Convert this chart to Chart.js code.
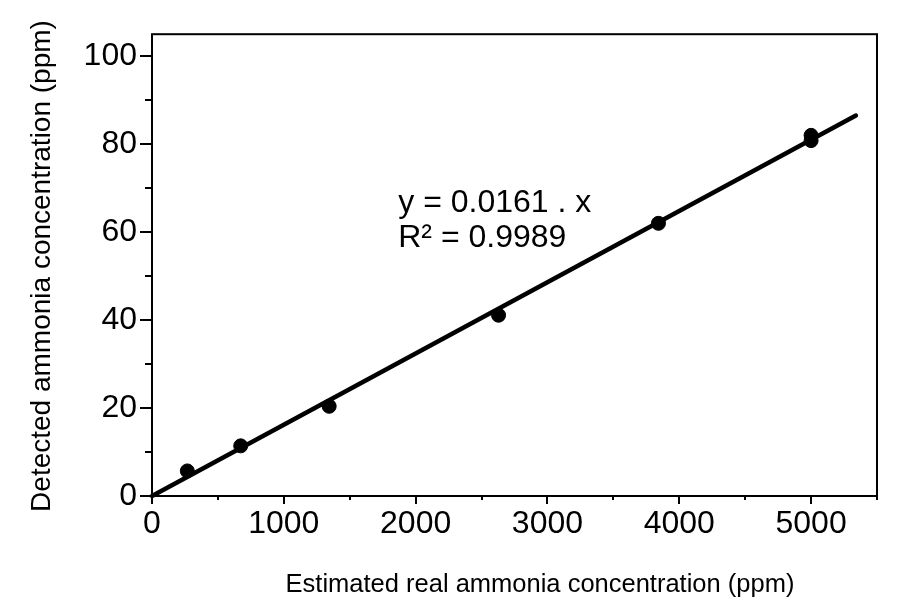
<!DOCTYPE html>
<html><head><meta charset="utf-8">
<script src="https://cdn.jsdelivr.net/npm/chart.js@4/dist/chart.umd.min.js"></script>
<style>html,body{margin:0;padding:0;background:#fff}#wrap{width:918px;height:611px;position:relative}</style>
</head><body><div id="wrap"><canvas id="c"></canvas></div>
<script>
// Measured points
const realConc = [268, 673, 1344, 2629, 3842, 5000, 5000];
const detectedConc = [5.7, 11.4, 20.4, 41.1, 62.0, 80.8, 82.0];
// Linear fit y = 0.0161 x (drawn segment)
const fitX = [0, 5340];
const fitY = [0, 86.5];
// Tick labels
const xMajorTicks = [0, 1000, 2000, 3000, 4000, 5000];
const yMajorTicks = [0, 20, 40, 60, 80, 100];
const xTitle = 'Estimated real ammonia concentration (ppm)';
const yTitle = 'Detected ammonia concentration (ppm)';
const eqLines = ['y = 0.0161 . x', 'R\u00B2 = 0.9989'];

const FONT = '"Liberation Sans", Arial, sans-serif';

const decor = {
  id: 'decor',
  afterDraw(chart) {
    const ctx = chart.ctx;
    const {left, right, top, bottom} = chart.chartArea;
    const xs = chart.scales.x, ys = chart.scales.y;
    ctx.save();
    ctx.strokeStyle = '#000';
    ctx.lineWidth = 2;
    ctx.lineCap = 'butt';
    ctx.strokeRect(left, top, right - left, bottom - top);
    xs.ticks.forEach(t => {
      if (t.value % 500 !== 0) return;
      const px = Math.round(xs.getPixelForValue(t.value));
      const len = xMajorTicks.includes(t.value) ? 8 : 4;
      ctx.beginPath(); ctx.moveTo(px, bottom); ctx.lineTo(px, bottom + len); ctx.stroke();
    });
    ys.ticks.forEach(t => {
      if (t.value % 10 !== 0) return;
      const py = Math.round(ys.getPixelForValue(t.value));
      const len = yMajorTicks.includes(t.value) ? 12 : 7;
      ctx.beginPath(); ctx.moveTo(left, py); ctx.lineTo(left - len, py); ctx.stroke();
    });
    ctx.fillStyle = '#000';
    // equation text
    ctx.font = '32px ' + FONT;
    ctx.textAlign = 'left';
    ctx.textBaseline = 'alphabetic';
    ctx.fillText(eqLines[0], xs.getPixelForValue(1868), ys.getPixelForValue(64.5));
    ctx.fillText(eqLines[1], xs.getPixelForValue(1868), ys.getPixelForValue(56.6));
    // axis titles
    ctx.font = '25.5px ' + FONT;
    ctx.textAlign = 'center';
    ctx.fillText(xTitle, 540, 592);
    ctx.save();
    ctx.translate(50, 266);
    ctx.rotate(-Math.PI / 2);
    ctx.font = '28px ' + FONT;
    ctx.fillText(yTitle, 0, 0);
    ctx.restore();
    ctx.restore();
  }
};

new Chart(document.getElementById('c'), {
  type: 'scatter',
  data: {
    datasets: [
      {
        data: realConc.map((x, i) => ({x, y: detectedConc[i]})),
        backgroundColor: '#000', borderColor: '#000',
        pointRadius: 7, pointHoverRadius: 7, showLine: false, clip: false
      },
      {
        data: fitX.map((x, i) => ({x, y: fitY[i]})),
        showLine: true, borderColor: '#000', borderWidth: 4.5, borderCapStyle: 'round',
        pointRadius: 0, pointHoverRadius: 0, fill: false, clip: false
      }
    ]
  },
  options: {
    responsive: true, maintainAspectRatio: false, animation: false,
    layout: {padding: {top: 34, right: 41, left: 0, bottom: 0}},
    plugins: {legend: {display: false}, tooltip: {enabled: false}},
    scales: {
      x: {
        type: 'linear', min: 0, max: 5500,
        afterFit(s) { s.height = 115; },
        grid: {display: true, drawOnChartArea: false, drawTicks: false},
        border: {display: false},
        ticks: {
          stepSize: 500, autoSkip: false, maxRotation: 0, padding: 9, includeBounds: false,
          color: '#000', font: {family: FONT, size: 32},
          callback: v => xMajorTicks.includes(v) ? String(v) : ''
        }
      },
      y: {
        type: 'linear', min: 0, max: 105,
        afterFit(s) { s.width = 152; },
        grid: {display: true, drawOnChartArea: false, drawTicks: false},
        border: {display: false},
        ticks: {
          stepSize: 10, autoSkip: false, padding: 15, includeBounds: false,
          color: '#000', font: {family: FONT, size: 32},
          callback: v => yMajorTicks.includes(v) ? String(v) : ''
        }
      }
    }
  },
  plugins: [decor]
});
</script>
</body></html>
